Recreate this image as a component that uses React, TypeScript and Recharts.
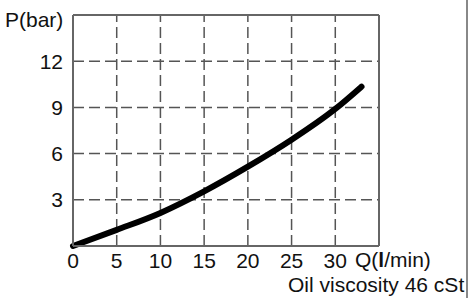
import { LineChart, Line, XAxis, YAxis, ReferenceLine } from "recharts"

const flow = [0, 5, 10, 15, 20, 25, 30, 33]
const pressure = [0, 1.05, 2.15, 3.55, 5.15, 6.9, 8.9, 10.35]
const xTicks = [0, 5, 10, 15, 20, 25, 30]
const yTicks = [3, 6, 9, 12]

const data = flow.map((q, i) => ({ q, p: pressure[i] }))

const font = "'Liberation Sans', Arial, sans-serif"
const tickStyle = { fontSize: 21, fill: "#111", fontFamily: font }
const gridStyle = { stroke: "#555", strokeWidth: 1.5, strokeDasharray: "11 5" }

export default function App() {
  return (
    <div style={{ position: "absolute", left: 0, top: 0, width: 469, height: 298, background: "#fff" }}>
      <LineChart width={469} height={298} data={data} margin={{ top: 15, right: 90, bottom: 22, left: 13 }}>
        {xTicks.slice(1).map((t) => (
          <ReferenceLine key={"x" + t} x={t} {...gridStyle} />
        ))}
        {yTicks.map((t) => (
          <ReferenceLine key={"y" + t} y={t} {...gridStyle} />
        ))}
        <XAxis
          dataKey="q"
          type="number"
          domain={[0, 35]}
          ticks={xTicks}
          height={30}
          tickLine={false}
          axisLine={{ stroke: "#666", strokeWidth: 2 }}
          tick={tickStyle}
          tickMargin={1}
          label={{
            content: () => (
              <text x={355} y={267} fontSize={21} fontFamily={font} fill="#111">
                Q(<tspan fontWeight="bold">l</tspan>/min)
              </text>
            ),
          }}
        />
        <YAxis
          type="number"
          domain={[0, 15]}
          ticks={yTicks}
          width={60}
          tickLine={false}
          axisLine={{ stroke: "#666", strokeWidth: 2 }}
          tick={tickStyle}
          tickMargin={4}
          label={{
            content: () => (
              <text x={5} y={27} fontSize={21} fontFamily={font} fill="#111">
                P(bar)
              </text>
            ),
          }}
        />
        <ReferenceLine y={15} stroke="#666" strokeWidth={2} />
        <ReferenceLine x={35} stroke="#666" strokeWidth={2} />
        <Line
          dataKey="p"
          type="monotone"
          stroke="#000"
          strokeWidth={6}
          strokeLinecap="round"
          dot={false}
          isAnimationActive={false}
        />
      </LineChart>
      <div
        style={{
          position: "absolute",
          left: 288,
          top: 275,
          fontSize: 21,
          fontFamily: font,
          color: "#111",
          whiteSpace: "nowrap",
          lineHeight: "20px",
        }}
      >
        Oil viscosity 46 cSt
      </div>
      <div style={{ position: "absolute", left: 466, top: 0, width: 2, height: 298, background: "#888" }} />
    </div>
  )
}
